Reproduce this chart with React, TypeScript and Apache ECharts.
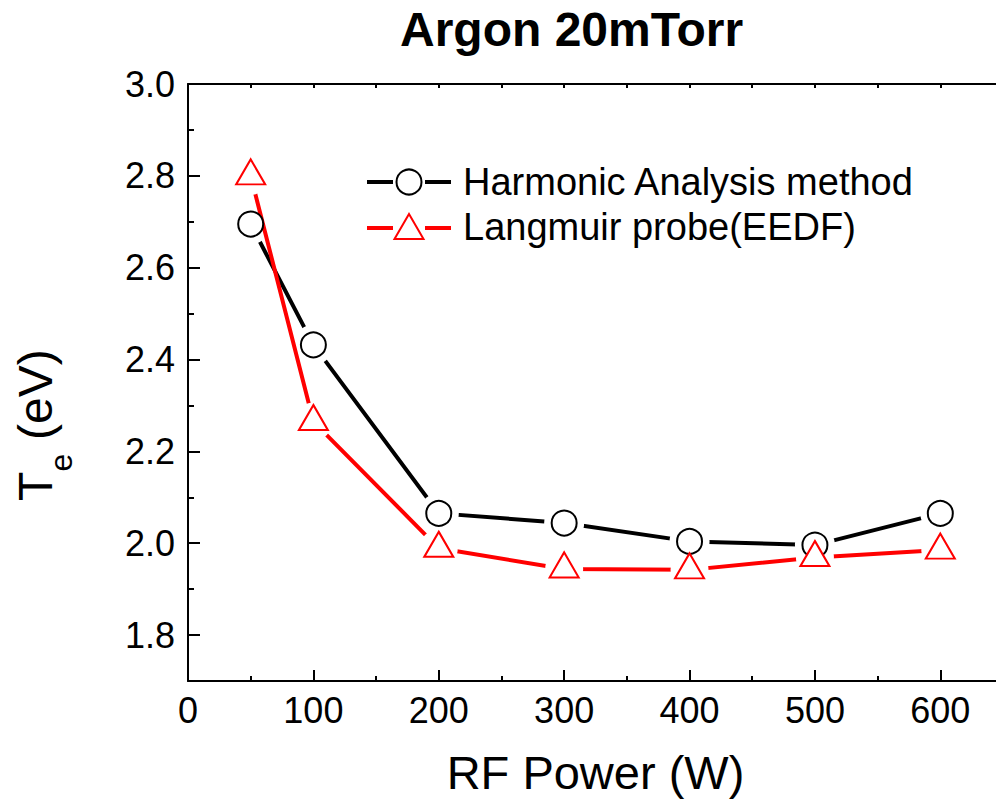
import React, { useEffect, useRef } from "react";
import * as echarts from "echarts";

const FONT = "'Liberation Sans', Arial, sans-serif";

const powerW = [50, 100, 200, 300, 400, 500, 600];
const harmonicTe = [2.695, 2.432, 2.065, 2.044, 2.004, 1.996, 2.065];
const langmuirTe = [2.8, 2.265, 1.989, 1.944, 1.942, 1.969, 1.985];

const xMajorTicks = [0, 100, 200, 300, 400, 500, 600];
const xMinorTicks = [50, 150, 250, 350, 450, 550, 650];
const xTopTicks = [0, 50, 100, 150, 200, 250, 300, 350, 400, 450, 500, 550, 600, 650];
const yMajorTicks = [1.8, 2.0, 2.2, 2.4, 2.6, 2.8, 3.0];
const yMinorTicks = [1.9, 2.1, 2.3, 2.5, 2.7, 2.9];

const seriesNames = ["Harmonic Analysis method", "Langmuir probe(EEDF)"];

export default function App() {
  const ref = useRef<HTMLDivElement>(null);

  useEffect(() => {
    if (!ref.current) return;
    const chart = echarts.init(ref.current, null, { renderer: "svg" });

    const black = powerW.map((x, i) => [x, harmonicTe[i]]);
    const red = powerW.map((x, i) => [x, langmuirTe[i]]);

    const axisLineStyle = { color: "#000", width: 2 };

    const option: any = {
      animation: false,
      backgroundColor: "#fff",
      title: {
        text: "Argon 20mTorr",
        left: 395,
        top: 0,
        textStyle: { fontSize: 48, fontWeight: "bold", color: "#000", fontFamily: FONT },
      },
      grid: {
        left: 188,
        right: -7,
        top: 84,
        bottom: 118,
        containLabel: false,
        outerBoundsMode: "none",
      },
      xAxis: [
        {
          type: "value",
          position: "bottom",
          min: 0,
          max: 650,
          axisLine: { show: true, onZero: false, lineStyle: axisLineStyle },
          axisTick: { show: true, inside: true, length: 11, customValues: xMajorTicks, lineStyle: axisLineStyle },
          axisLabel: {
            customValues: xMajorTicks,
            fontSize: 36,
            color: "#000",
            fontFamily: FONT,
            margin: 11,
          },
          splitLine: { show: false },
          name: "RF Power (W)",
          nameLocation: "middle",
          nameGap: 68,
          nameTextStyle: { fontSize: 47, color: "#000", fontFamily: FONT },
        },
        {
          type: "value",
          position: "bottom",
          min: 0,
          max: 650,
          axisLine: { show: false, onZero: false },
          axisTick: { show: true, inside: true, length: 5, customValues: xMinorTicks, lineStyle: axisLineStyle },
          axisLabel: { show: false },
          splitLine: { show: false },
        },
        {
          type: "value",
          position: "top",
          min: 0,
          max: 650,
          axisLine: { show: true, onZero: false, lineStyle: axisLineStyle },
          axisTick: { show: true, inside: true, length: 4, customValues: xTopTicks, lineStyle: axisLineStyle },
          axisLabel: { show: false },
          splitLine: { show: false },
        },
      ],
      yAxis: [
        {
          type: "value",
          position: "left",
          min: 1.7,
          max: 3.0,
          axisLine: { show: true, onZero: false, lineStyle: axisLineStyle },
          axisTick: { show: true, inside: true, length: 12, customValues: yMajorTicks, lineStyle: axisLineStyle },
          axisLabel: {
            customValues: yMajorTicks,
            fontSize: 36,
            color: "#000",
            fontFamily: FONT,
            margin: 13,
            formatter: (v: number) => v.toFixed(1),
          },
          splitLine: { show: false },
        },
        {
          type: "value",
          position: "left",
          min: 1.7,
          max: 3.0,
          axisLine: { show: false, onZero: false },
          axisTick: { show: true, inside: true, length: 6, customValues: yMinorTicks, lineStyle: axisLineStyle },
          axisLabel: { show: false },
          splitLine: { show: false },
        },
      ],
      series: [
        {
          name: seriesNames[0] + " line",
          type: "line",
          data: black,
          z: 2,
          symbol: "circle",
          symbolSize: 40,
          showAllSymbol: true,
          itemStyle: { color: "#fff", borderWidth: 0 },
          lineStyle: { color: "#000", width: 4 },
          silent: true,
          emphasis: { disabled: true },
        },
        {
          name: seriesNames[1] + " line",
          type: "line",
          data: red,
          z: 3,
          symbol: "circle",
          symbolSize: 38,
          showAllSymbol: true,
          itemStyle: { color: "#fff", borderWidth: 0 },
          lineStyle: { color: "#ff0000", width: 4 },
          silent: true,
          emphasis: { disabled: true },
        },
        {
          name: seriesNames[0],
          type: "scatter",
          data: black,
          z: 4,
          symbol: "circle",
          symbolSize: 25,
          itemStyle: { color: "#fff", borderColor: "#000", borderWidth: 2, opacity: 1 },
          silent: true,
          emphasis: { disabled: true },
        },
        {
          name: seriesNames[1],
          type: "scatter",
          data: red,
          z: 5,
          symbol: "triangle",
          symbolSize: [29, 25],
          symbolOffset: [0, -4],
          itemStyle: { color: "#fff", borderColor: "#ff0000", borderWidth: 2, opacity: 1 },
          silent: true,
          emphasis: { disabled: true },
        },
      ],
      graphic: [
        // y axis title: T_e (eV)
        {
          type: "text",
          x: 35.4,
          y: 501,
          rotation: Math.PI / 2,
          style: { text: "T", fontSize: 48, fontFamily: FONT, fill: "#000", align: "left", verticalAlign: "middle" },
        },
        {
          type: "text",
          x: 61,
          y: 471.5,
          rotation: Math.PI / 2,
          style: { text: "e", fontSize: 32, fontFamily: FONT, fill: "#000", align: "left", verticalAlign: "middle" },
        },
        {
          type: "text",
          x: 35.4,
          y: 440,
          rotation: Math.PI / 2,
          style: { text: "(eV)", fontSize: 48, fontFamily: FONT, fill: "#000", align: "left", verticalAlign: "middle" },
        },
        // legend row 1
        { type: "line", shape: { x1: 367, y1: 182, x2: 393, y2: 182 }, style: { stroke: "#000", lineWidth: 4 } },
        { type: "line", shape: { x1: 425, y1: 182, x2: 451, y2: 182 }, style: { stroke: "#000", lineWidth: 4 } },
        { type: "circle", shape: { cx: 409, cy: 182, r: 12.5 }, style: { fill: "#fff", stroke: "#000", lineWidth: 2 } },
        {
          type: "text",
          x: 463,
          y: 182,
          style: { text: seriesNames[0], fontSize: 38, fontFamily: FONT, fill: "#000", align: "left", verticalAlign: "middle" },
        },
        // legend row 2
        { type: "line", shape: { x1: 367, y1: 228, x2: 393, y2: 228 }, style: { stroke: "#ff0000", lineWidth: 4 } },
        { type: "line", shape: { x1: 425, y1: 228, x2: 451, y2: 228 }, style: { stroke: "#ff0000", lineWidth: 4 } },
        {
          type: "polygon",
          shape: { points: [[409, 214], [423.5, 239], [394.5, 239]] },
          style: { fill: "#fff", stroke: "#ff0000", lineWidth: 2 },
        },
        {
          type: "text",
          x: 463,
          y: 227,
          style: { text: seriesNames[1], fontSize: 38, fontFamily: FONT, fill: "#000", align: "left", verticalAlign: "middle" },
        },
      ],
    };

    chart.setOption(option);
    return () => chart.dispose();
  }, []);

  return (
    <div
      ref={ref}
      style={{ position: "absolute", left: 0, top: 0, width: 996, height: 799, background: "#fff" }}
    />
  );
}
